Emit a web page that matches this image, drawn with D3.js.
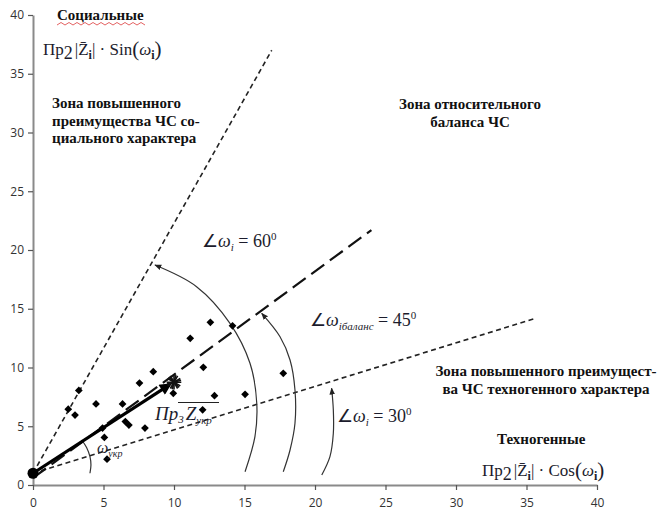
<!DOCTYPE html>
<html>
<head>
<meta charset="utf-8">
<script src="https://cdn.jsdelivr.net/npm/d3@7"></script>
<style>
  body { margin: 0; background: #fff; }
</style>
</head>
<body>
<div id="chart"></div>
<script>

// tick labels
var xTicks = [0, 5, 10, 15, 20, 25, 30, 35, 40];
var yTicks = [0, 5, 10, 15, 20, 25, 30, 35, 40];

// the scattered events (techno / social projections)
var pointsX = [2.5, 3.25, 2.98, 4.47, 4.93, 5.06, 5.25, 6.35, 6.55, 6.8, 7.55, 7.94, 8.53, 9.95, 11.15, 12.08, 12.58, 12.03, 12.87, 14.15, 15.04, 17.75];
var pointsY = [6.45, 8.05, 5.95, 6.9, 4.85, 4.05, 2.2, 6.9, 5.4, 5.1, 8.68, 4.85, 9.64, 7.8, 12.48, 10.02, 13.85, 6.4, 7.6, 13.55, 7.72, 9.5];

// start point and the resulting vector
var origin = [0, 1];
var vectorTip = [9.7, 8.55];
var vectorStar = [10, 8.75];

// zone borders
var line60 = [[0, 1], [16.93, 37.0]];
var line45 = [[0, 0.6], [24.0, 21.7]];
var line30 = [[0, 1], [35.7, 14.2]];

// angle arcs
var arc60 = [[8.65, 18.72], [11.6, 16.88], [13.97, 13.76], [15.39, 10.36], [15.87, 6.95], [15.74, 4.11], [15.04, 1.13]];
var arc45 = [[16.22, 14.61], [17.52, 12.62], [18.23, 10.64], [18.58, 8.09], [18.58, 5.25], [18.23, 2.98], [17.75, 1.13]];
var arc30 = [[21.18, 8.23], [21.3, 6.38], [21.3, 4.4], [21.06, 2.41], [20.48, 0.85]];
var arcUkr = [[3.45, 3.83], [3.8, 3.2], [4.04, 2.41], [4.11, 1.7], [4.04, 1.0]];

var width = 661, height = 513;
var serif = "'Liberation Serif', 'Times New Roman', serif";
var inkColor = "#1c1c2c";

var svg = d3.select("#chart").append("svg")
    .attr("width", width)
    .attr("height", height);

var x = d3.scaleLinear().domain([0, 40]).range([33, 597]);
var y = d3.scaleLinear().domain([0, 40]).range([485, 15]);

// arrow markers
var defs = svg.append("defs");
defs.append("marker")
    .attr("id", "arcHead")
    .attr("viewBox", "0 0 10 10")
    .attr("refX", 9).attr("refY", 5)
    .attr("markerWidth", 7).attr("markerHeight", 7)
    .attr("markerUnits", "userSpaceOnUse")
    .attr("orient", "auto-start-reverse")
  .append("path")
    .attr("d", "M0,1 L10,5 L0,9 Z")
    .attr("fill", "#222");

defs.append("marker")
    .attr("id", "vecHead")
    .attr("viewBox", "0 0 10 10")
    .attr("refX", 8).attr("refY", 5)
    .attr("markerWidth", 14).attr("markerHeight", 12)
    .attr("markerUnits", "userSpaceOnUse")
    .attr("orient", "auto")
  .append("path")
    .attr("d", "M0,0 L10,5 L0,10 Z")
    .attr("fill", "#000");

// axes
svg.append("g")
    .attr("class", "axis")
    .attr("transform", "translate(" + x(0) + ",0)")
    .call(d3.axisLeft(y).tickValues(yTicks).tickSize(5).tickSizeOuter(0).tickPadding(4));

svg.append("g")
    .attr("class", "axis")
    .attr("transform", "translate(0," + y(0) + ")")
    .call(d3.axisBottom(x).tickValues(xTicks).tickSize(5).tickSizeOuter(0).tickPadding(8));

svg.selectAll(".axis .domain").attr("stroke", "#8a8a8a").attr("stroke-width", 2);
svg.selectAll(".axis .tick line").attr("stroke", "#555").attr("stroke-width", 1.2);
svg.selectAll(".axis .tick text")
    .style("font-family", "'Open Sans', sans-serif").style("font-size", "12px").attr("fill", "#333");

var lineGen = d3.line().x(function(d) { return x(d[0]); }).y(function(d) { return y(d[1]); });

// zone borders
svg.append("path").attr("d", lineGen(line60))
    .attr("fill", "none").attr("stroke", "#222").attr("stroke-width", 1.6)
    .attr("stroke-dasharray", "5,3.5");
svg.append("path").attr("d", lineGen(line30))
    .attr("fill", "none").attr("stroke", "#222").attr("stroke-width", 1.6)
    .attr("stroke-dasharray", "5,3.5");
svg.append("path").attr("d", lineGen(line45))
    .attr("fill", "none").attr("stroke", "#111").attr("stroke-width", 2.2)
    .attr("stroke-dasharray", "16,7");

// angle arcs
var curveGen = d3.line().curve(d3.curveCatmullRom)
    .x(function(d) { return x(d[0]); }).y(function(d) { return y(d[1]); });

[arc60, arc45, arc30].forEach(function(a) {
  svg.append("path").attr("d", curveGen(a))
      .attr("fill", "none").attr("stroke", "#333").attr("stroke-width", 1.2)
      .attr("marker-start", "url(#arcHead)");
});
svg.append("path").attr("d", curveGen(arcUkr))
    .attr("fill", "none").attr("stroke", "#333").attr("stroke-width", 1.2);

// points
svg.append("g")
  .selectAll("path")
  .data(pointsX)
  .enter().append("path")
    .attr("d", d3.symbol().type(d3.symbolSquare).size(30))
    .attr("transform", function(d, i) { return "translate(" + x(d) + "," + y(pointsY[i]) + ") rotate(45)"; })
    .attr("fill", "#000");

// vector
svg.append("path").attr("d", lineGen([origin, vectorTip]))
    .attr("stroke", "#000").attr("stroke-width", 3.2).attr("fill", "none")
    .attr("marker-end", "url(#vecHead)");

var star = svg.append("g").attr("transform", "translate(" + x(vectorStar[0]) + "," + y(vectorStar[1]) + ")");
[0, 15, 30].forEach(function(r) {
  star.append("path")
      .attr("d", d3.symbol().type(d3.symbolAsterisk).size(150))
      .attr("transform", "rotate(" + r + ")")
      .attr("stroke", "#111").attr("stroke-width", 1.6).attr("fill", "none");
});

svg.append("circle")
    .attr("cx", x(origin[0])).attr("cy", y(origin[1]))
    .attr("r", 5.5).attr("fill", "#000");

// text helpers
function boldText(xp, yp, s, anchor) {
  return svg.append("text")
      .attr("x", xp).attr("y", yp)
      .attr("text-anchor", anchor || "start")
      .style("font-family", serif).style("font-weight", "bold").style("font-size", "15px")
      .attr("fill", "#111")
      .text(s);
}
function formulaText(xp, yp, size) {
  return svg.append("text")
      .attr("x", xp).attr("y", yp)
      .style("font-family", serif).style("font-size", size + "px")
      .attr("fill", inkColor);
}

// axis titles
boldText(57, 20, "Социальные");
svg.append("path")
    .attr("d", d3.range(0, 23).map(function(i) { return (i ? "L" : "M") + (57 + i * 4) + "," + (i % 2 ? 22.5 : 25); }).join(""))
    .attr("fill", "none").attr("stroke", "#e05050").attr("stroke-width", 0.9);

boldText(497, 444, "Техногенные");

function projFormula(xp, yp, fn) {
  var t = formulaText(xp, yp, 17);
  t.append("tspan").text("Пр");
  t.append("tspan").attr("dy", 4).style("font-size", "18px").text("2");
  t.append("tspan").attr("dy", -4).attr("dx", 2).text("|Z\u0304");
  t.append("tspan").attr("dy", 4).style("font-size", "12px").style("font-weight", "bold").text("i");
  t.append("tspan").attr("dy", -4).text("| · " + fn);
  t.append("tspan").style("font-size", "21px").attr("dy", 1).text("(");
  t.append("tspan").attr("dy", -1).style("font-style", "italic").text("ω");
  t.append("tspan").attr("dy", 4).style("font-size", "12px").style("font-weight", "bold").text("i");
  t.append("tspan").attr("dy", -3).style("font-size", "21px").text(")");
}
projFormula(43, 55, "Sin");
projFormula(482, 476, "Cos");

// zones
function zone(lines, xp, yp, anchor) {
  lines.forEach(function(s, i) {
    boldText(xp, yp + i * 17.5, s, anchor);
  });
}
zone(["Зона повышенного", "преимущества ЧС со-", "циального характера"], 52, 108, "start");
zone(["Зона относительного", "баланса ЧС"], 470, 109, "middle");
zone(["Зона повышенного преимущест-", "ва ЧС техногенного характера"], 546, 376, "middle");

// angle labels
function angleLabel(xp, yp, sub, val) {
  var t = formulaText(xp, yp, 18);
  t.append("tspan").text("∠");
  t.append("tspan").style("font-style", "italic").text("ω");
  t.append("tspan").attr("dy", 4).style("font-size", "11px").style("font-style", "italic").text(sub);
  t.append("tspan").attr("dy", -4).text(" = " + val);
  t.append("tspan").attr("dy", -7).style("font-size", "11px").text("0");
}
angleLabel(202, 247, "i", "60");
angleLabel(310, 326, "iбаланс", "45");
angleLabel(337, 422, "i", "30");

// vector label
var vl = formulaText(155, 420, 19).style("font-style", "italic");
vl.append("tspan").text("Пр");
vl.append("tspan").attr("dy", 3).style("font-size", "11px").text("3");
vl.append("tspan").attr("dy", -3).attr("dx", 2).text("Z");
vl.append("tspan").attr("dy", 4).style("font-size", "11px").text("укр");
svg.append("line").attr("x1", 178).attr("x2", 219).attr("y1", 402.5).attr("y2", 402.5)
    .attr("stroke", "#222").attr("stroke-width", 1.2);

var wl = formulaText(97, 453, 16).style("font-style", "italic");
wl.append("tspan").text("ω");
wl.append("tspan").attr("dy", 4).style("font-size", "10px").text("укр");

</script>
</body>
</html>
